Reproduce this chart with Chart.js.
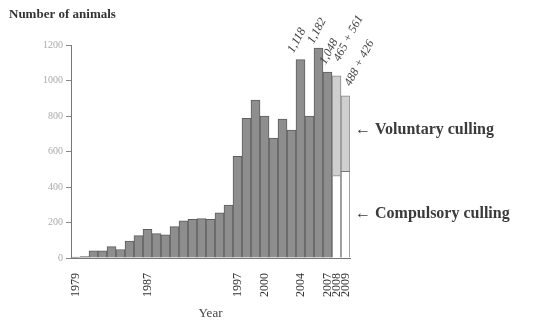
<!DOCTYPE html>
<html>
<head>
<meta charset="utf-8">
<script src="https://cdn.jsdelivr.net/npm/chart.js@4"></script>
<style>
  html, body { margin: 0; padding: 0; background: #fff; }
  #wrap { width: 539px; height: 321px; }
</style>
</head>
<body>
<div id="wrap"><canvas id="cullChart" width="539" height="321"></canvas></div>
<script>
// Animals culled per year
const years = [1979, 1980, 1981, 1982, 1983, 1984, 1985, 1986, 1987, 1988, 1989, 1990,
  1991, 1992, 1993, 1994, 1995, 1996, 1997, 1998, 1999, 2000, 2001, 2002, 2003, 2004,
  2005, 2006, 2007, 2008, 2009];
const totals = [5, 8, 40, 40, 64, 48, 96, 126, 162, 137, 130, 177,
  210, 218, 222, 218, 254, 298, 573, 787, 890, 800, 676, 782, 720, 1118,
  800, 1182, 1048, null, null];
const compulsory = [null, null, null, null, null, null, null, null, null, null, null, null,
  null, null, null, null, null, null, null, null, null, null, null, null, null, null,
  null, null, null, 465, 488];
const voluntary = [null, null, null, null, null, null, null, null, null, null, null, null,
  null, null, null, null, null, null, null, null, null, null, null, null, null, null,
  null, null, null, 561, 426];

const shownYears = [1979, 1987, 1997, 2000, 2004, 2007, 2008, 2009];
const annotatedYears = [2004, 2006, 2007, 2008, 2009];
const yTicks = [0, 200, 400, 600, 800, 1000, 1200];

// where each rotated note starts, relative to the top of its bar
const noteOffsets = {
  2004: [-7, -6], 2006: [-5, -4], 2007: [-2, -7], 2008: [3, -14], 2009: [5, -9]
};

const SERIF = '"Liberation Serif", "DejaVu Serif", serif';

// text that is not part of an axis: title, bar notes, arrows
const notesPlugin = {
  id: 'notes',
  afterDatasetsDraw(chart) {
    const ctx = chart.ctx;
    ctx.save();
    ctx.fillStyle = '#333';
    ctx.font = 'bold 13px ' + SERIF;
    ctx.textBaseline = 'alphabetic';
    ctx.textAlign = 'left';
    ctx.fillText('Number of animals', 9, 18);

    // rotated value notes above bars
    ctx.font = 'italic 12px ' + SERIF;
    ctx.fillStyle = '#444';
    annotatedYears.forEach(yr => {
      const i = years.indexOf(yr);
      let text, top;
      if (totals[i] != null) {
        text = totals[i].toLocaleString('en-US');
        top = chart.getDatasetMeta(0).data[i];
      } else {
        text = compulsory[i] + ' + ' + voluntary[i];
        top = chart.getDatasetMeta(2).data[i];
      }
      const off = noteOffsets[yr];
      ctx.save();
      ctx.translate(top.x + off[0], top.y + off[1]);
      ctx.rotate(-62 * Math.PI / 180);
      ctx.fillText(text, 0, 0);
      ctx.restore();
    });

    // arrows pointing at the 2008/2009 parts
    const yScale = chart.scales.y;
    ctx.font = 'bold 16px ' + SERIF;
    ctx.fillStyle = '#3a3a3a';
    ctx.textBaseline = 'middle';
    ctx.fillText('\u2190 Voluntary culling', 355, yScale.getPixelForValue(720));
    ctx.fillText('\u2190 Compulsory culling', 355, yScale.getPixelForValue(250));

    ctx.font = '13px ' + SERIF;
    ctx.fillStyle = '#444';
    ctx.textAlign = 'center';
    ctx.textBaseline = 'alphabetic';
    ctx.fillText('Year', (chart.chartArea.left + chart.chartArea.right) / 2, 317);
    ctx.restore();
  }
};

new Chart(document.getElementById('cullChart').getContext('2d'), {
  type: 'bar',
  data: {
    labels: years,
    datasets: [{
      label: 'Total',
      data: totals,
      backgroundColor: '#8e8e8e',
      borderColor: '#5e5e5e',
      borderWidth: 1
    }, {
      label: 'Compulsory culling',
      data: compulsory,
      backgroundColor: '#ffffff',
      borderColor: '#777',
      borderWidth: 1
    }, {
      label: 'Voluntary culling',
      data: voluntary,
      backgroundColor: '#cfcfcf',
      borderColor: '#888',
      borderWidth: 1
    }]
  },
  options: {
    responsive: false,
    animation: false,
    layout: { padding: { top: 45, right: 189, bottom: 0, left: 0 } },
    datasets: { bar: { barPercentage: 1, categoryPercentage: 1 } },
    plugins: {
      legend: { display: false },
      tooltip: { enabled: false }
    },
    scales: {
      x: {
        stacked: true,
        grid: { display: false },
        border: { color: '#777' },
        ticks: {
          autoSkip: false,
          minRotation: 90,
          maxRotation: 90,
          padding: 7,
          color: '#333',
          font: { family: SERIF, size: 12 },
          callback: (v, i) => shownYears.includes(years[i]) ? String(years[i]) : ''
        },
        afterFit: s => { s.height = 63; }
      },
      y: {
        stacked: true,
        min: 0,
        max: 1200,
        afterBuildTicks: s => { s.ticks = yTicks.map(v => ({ value: v })); },
        grid: { drawOnChartArea: false, tickLength: 5, color: '#888' },
        border: { color: '#777' },
        ticks: {
          padding: 3,
          color: '#aaa',
          font: { family: SERIF, size: 10 },
          callback: v => String(v)
        },
        afterFit: s => { s.width = 71; }
      }
    }
  },
  plugins: [notesPlugin]
});
</script>
</body>
</html>
